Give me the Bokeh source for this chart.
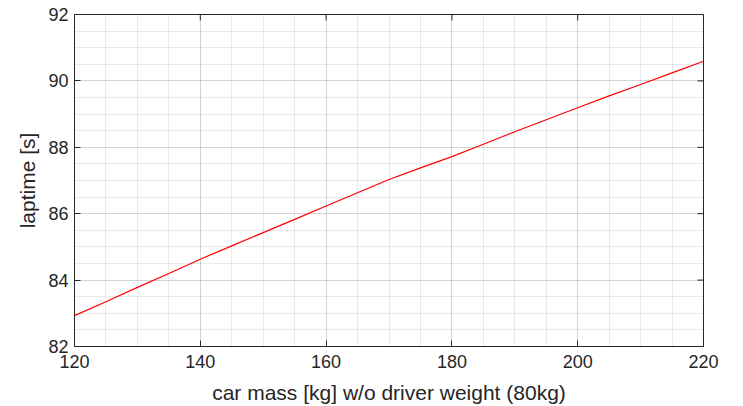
from bokeh.plotting import figure
from bokeh.models import Range1d, SingleIntervalTicker, LinearAxis, Grid
from bokeh.embed import file_html
from bokeh.resources import INLINE

car_mass = [120, 125, 130, 135, 140, 145, 150, 155, 160, 165, 170,
            175, 180, 185, 190, 195, 200, 205, 210, 215, 220]
laptime = [82.93, 83.35, 83.78, 84.20, 84.63, 85.03, 85.43, 85.83, 86.23, 86.63, 87.03,
           87.38, 87.72, 88.09, 88.47, 88.83, 89.19, 89.55, 89.89, 90.24, 90.59]

x_ticks = [120, 140, 160, 180, 200, 220]
y_ticks = [82, 84, 86, 88, 90, 92]

x_label = "car mass [kg] w/o driver weight (80kg)"
y_label = "laptime [s]"

AX = "#262626"
FONT = "Liberation Sans"

p = figure(width=743, height=406, output_backend="svg", toolbar_location=None,
           x_range=Range1d(x_ticks[0], x_ticks[-1]), y_range=Range1d(y_ticks[0], y_ticks[-1]),
           min_border_left=74, min_border_right=40, min_border_top=14, min_border_bottom=59,
           x_axis_type=None, y_axis_type=None)
p.background_fill_color = "white"
p.border_fill_color = "white"
p.outline_line_color = AX
p.outline_line_width = 1

xt = SingleIntervalTicker(interval=20, num_minor_ticks=4)
yt = SingleIntervalTicker(interval=2, num_minor_ticks=4)

# grids (major solid, minor dotted)
for dim, tk in ((0, xt), (1, yt)):
    g = Grid(dimension=dim, ticker=tk)
    g.grid_line_color = AX
    g.grid_line_alpha = 0.11
    g.minor_grid_line_color = AX
    g.minor_grid_line_alpha = 0.2
    g.minor_grid_line_dash = "1 1"
    p.add_layout(g)

def style(ax):
    ax.axis_line_color = AX
    ax.major_tick_line_color = AX
    ax.major_tick_in = 6
    ax.major_tick_out = 0
    ax.minor_tick_in = 0
    ax.minor_tick_out = 0
    ax.major_label_text_color = AX
    ax.major_label_text_font = FONT
    ax.major_label_text_font_size = "18px"
    ax.axis_label_text_font = FONT
    ax.axis_label_text_font_size = "21px"
    ax.axis_label_text_color = AX
    ax.axis_label_text_font_style = "normal"

xb = LinearAxis(ticker=xt, axis_label=x_label)
style(xb)
xb.major_label_standoff = 8
xb.axis_label_standoff = 10
p.add_layout(xb, "below")

yl = LinearAxis(ticker=yt, axis_label=y_label)
style(yl)
yl.major_label_standoff = 6
yl.axis_label_standoff = 6
p.add_layout(yl, "left")

# inward tick marks on the top and right edges of the box (half of each dash is clipped)
p.scatter(x_ticks, [y_ticks[-1]] * len(x_ticks), marker="dash", size=12, angle=1.5707963,
          line_color=AX, line_width=1)
p.scatter([x_ticks[-1]] * len(y_ticks), y_ticks, marker="dash", size=12,
          line_color=AX, line_width=1)

p.line(car_mass, laptime, line_color="#ff0000", line_width=1.2)

open("out.html", "w").write(file_html(p, INLINE))
